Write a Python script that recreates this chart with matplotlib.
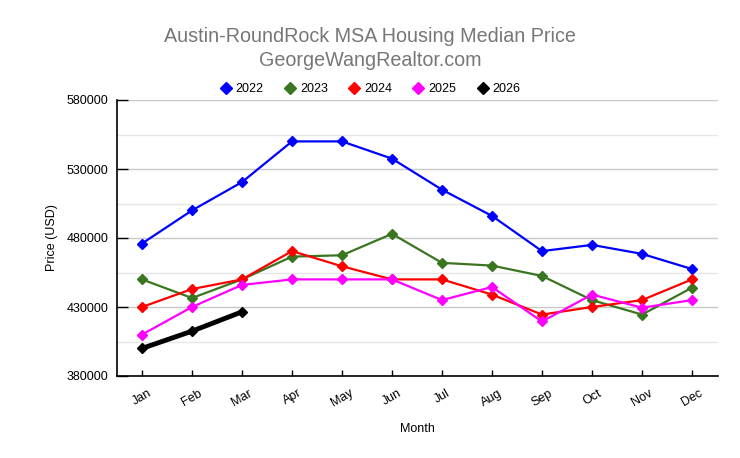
import matplotlib
matplotlib.use("Agg")
import matplotlib.pyplot as plt

plt.rcParams['font.family'] = ['Liberation Sans', 'DejaVu Sans']

months = ['Jan', 'Feb', 'Mar', 'Apr', 'May', 'Jun', 'Jul', 'Aug', 'Sep', 'Oct', 'Nov', 'Dec']
y_ticks = [380000, 430000, 480000, 530000, 580000]
y_minor = [405000, 455000, 505000, 555000]

price_2022 = [476000, 500000, 520500, 550000, 550000, 537500, 515000, 496000, 470500, 475000, 468500, 457500]
price_2023 = [450000, 436500, 450000, 466500, 467500, 483000, 462000, 460000, 452500, 435000, 424500, 444000]
price_2024 = [430000, 443000, 450000, 470500, 459500, 450000, 450000, 439000, 424500, 430000, 435000, 450000]
price_2025 = [410000, 430000, 446000, 450000, 450000, 450000, 435000, 444500, 419500, 439000, 429500, 435000]
price_2026 = [400000, 412500, 426500]

series = [
    ('2022', price_2022, '#0000ff', 1.6),
    ('2023', price_2023, '#3a7520', 1.6),
    ('2024', price_2024, '#ff0000', 1.6),
    ('2025', price_2025, '#ff00ff', 1.6),
    ('2026', price_2026, '#000000', 3.5),
]

fig = plt.figure(figsize=(7.4, 4.58), dpi=100)
ax = fig.add_axes([117 / 740, 1 - 376 / 458, (718 - 117) / 740, 276 / 458])

for name, vals, color, lw in series:
    ax.plot(range(len(vals)), vals, color=color, lw=lw, marker='D', ms=5.5,
            label=name, zorder=3)

ax.set_xlim(-0.5, 11.52)
ax.set_ylim(y_ticks[0], y_ticks[-1])
ax.set_xticks(range(len(months)))
ax.set_xticklabels(months, rotation=30, fontsize=9)
ax.set_yticks(y_ticks)
ax.set_yticks(y_minor, minor=True)
ax.tick_params(axis='y', direction='in', labelsize=9, length=8, width=1, pad=6)
ax.tick_params(axis='y', which='minor', length=0)
ax.tick_params(axis='x', direction='in', length=4, width=1, pad=8)
ax.grid(axis='y', which='major', color='#c8c8c8', lw=1, zorder=0)
ax.grid(axis='y', which='minor', color='#e6e6e6', lw=1, zorder=0)
for s in ['top', 'right']:
    ax.spines[s].set_visible(False)
for s in ['left', 'bottom']:
    ax.spines[s].set_color('black')
    ax.spines[s].set_linewidth(1.2)

ax.set_xlabel('Month', fontsize=9, labelpad=10)
ax.set_ylabel('Price (USD)', fontsize=9, labelpad=6)

fig.text(0.5, 1 - 37 / 458, 'Austin-RoundRock MSA Housing Median Price',
         ha='center', va='center', fontsize=14.2, color='#777777')
fig.text(0.5, 1 - 60 / 458, 'GeorgeWangRealtor.com',
         ha='center', va='center', fontsize=14.2, color='#777777')

handles = [plt.Line2D([], [], ls='none', marker='D', ms=6, color=c) for _, _, c, _ in series]
fig.legend(handles, [n for n, _, _, _ in series], loc='center',
           bbox_to_anchor=(0.5, 1 - 89 / 458), ncol=5, frameon=False,
           fontsize=9, handletextpad=0.3, columnspacing=1.6, handlelength=1)

fig.savefig('out.png', dpi=100)
